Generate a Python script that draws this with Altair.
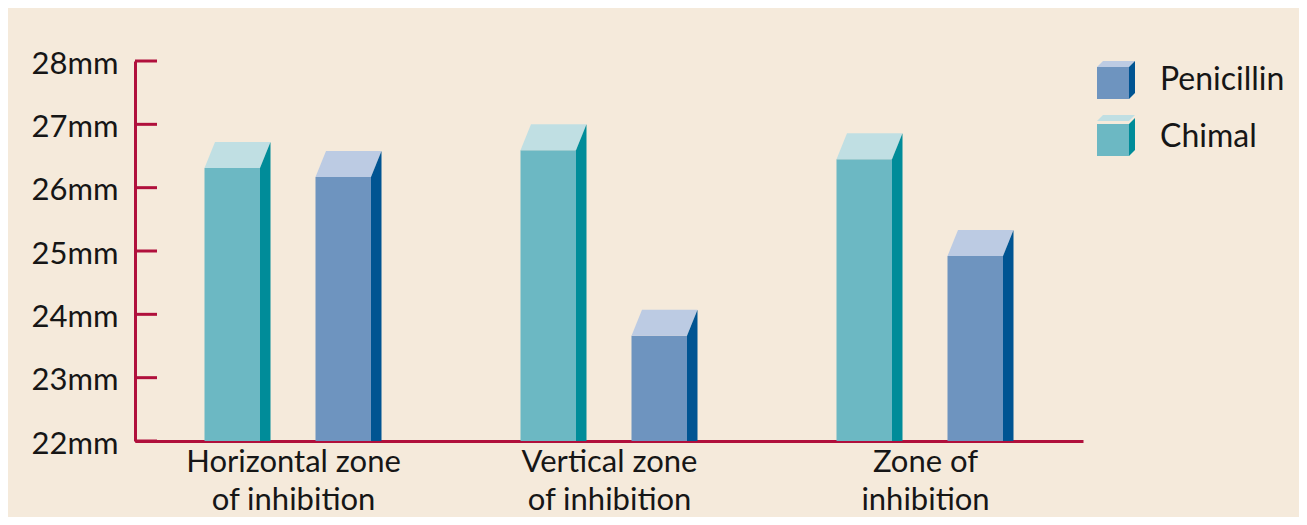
import json
import altair as alt
import pandas as pd

# ---- data ----
categories = ["Horizontal zone of inhibition", "Vertical zone of inhibition", "Zone of inhibition"]
category_lines = [["Horizontal zone", "of inhibition"], ["Vertical zone", "of inhibition"], ["Zone of", "inhibition"]]
series = ["Penicillin", "Chimal"]
chimal = [26.31, 26.59, 26.45]
penicillin = [26.17, 23.66, 24.92]
y_ticks = [22, 23, 24, 25, 26, 27, 28]

# ---- styles ----
front_colors = ["#6E94BF", "#6CB8C3"]
top_colors = ["#BCCBE3", "#C0DFE3"]
side_colors = ["#005492", "#008C99"]
AXIS = "#B0103C"
BG = "#F5EADB"
TXT = "#161616"
FONT = "Lato"

W, H = 948, 380
BAND = W / 3
Y0, Y1 = 22, 28
PX_PER_MM = H / (Y1 - Y0)
offsets = {"Chimal": 69.5, "Penicillin": 180.5}
FRONT, SIDE, DEPTH = 55.5, 10.5, 26

rows_front, rows_top, rows_side = [], [], []
for i, cat in enumerate(categories):
    for s, vals in (("Chimal", chimal), ("Penicillin", penicillin)):
        v = vals[i]
        x0 = i + offsets[s] / BAND
        x1 = x0 + FRONT / BAND
        dx = SIDE / BAND
        dy = DEPTH / PX_PER_MM
        bid = f"{s}-{i}"
        rows_front.append(dict(series=s, category=cat, x0=x0, x1=x1, y=v, base=Y0))
        rows_top.append(dict(series=s, bar=bid, y=v, xa=x0, xb=x1))
        rows_top.append(dict(series=s, bar=bid, y=v + dy, xa=x0 + dx, xb=x1 + dx))
        rows_side.append(dict(series=s, bar=bid, x=x1, y=v, base=Y0))
        rows_side.append(dict(series=s, bar=bid, x=x1 + dx, y=v + dy, base=Y0))

df_front = pd.DataFrame(rows_front)
df_top = pd.DataFrame(rows_top)
df_side = pd.DataFrame(rows_side)
df_ticks = pd.DataFrame({"tick": y_ticks})

x_scale = alt.Scale(domain=[0, 3], nice=False, zero=False)
y_scale = alt.Scale(domain=[Y0, Y1], nice=False, zero=False)

label_expr = "[" + ",".join(json.dumps(l) for l in category_lines) + "][floor(datum.value)]"

x_axis = alt.Axis(values=[0.5, 1.5, 2.5], labelExpr=label_expr, title=None, ticks=False, tickSize=0,
                  domainColor=AXIS, domainWidth=3, labelFont=FONT, labelFontSize=31, labelColor=TXT,
                  labelPadding=6, labelLineHeight=38, grid=False, labelFlush=False, labelLimit=0)
y_axis = alt.Axis(values=y_ticks, labelExpr="datum.value + 'mm'", title=None, ticks=False, tickSize=0,
                  domainColor=AXIS, domainWidth=3, labelFont=FONT, labelFontSize=31, labelColor=TXT,
                  labelPadding=17, labelOffset=3, grid=False, labelFlush=False, labelLimit=0)

P_FRONT = "M-1,-0.684L0.684,-0.684L0.684,1L-1,1Z"
P_TOP = "M-1,-0.684L0.684,-0.684L1,-1L-0.684,-1Z"
P_SIDE = "M0.684,-0.684L1,-1L1,0.684L0.684,1Z"


def leg(path, show):
    opts = dict(title=None, orient="none", legendX=962, legendY=0, symbolType=path,
                symbolSize=1444, symbolStrokeWidth=0, symbolOpacity=1, labelFont=FONT,
                labelFontSize=32, labelColor=TXT, labelOffset=25, rowPadding=19, padding=0,
                labelLimit=0)
    if not show:
        opts["labelExpr"] = "''"
    return alt.Legend(**opts)


ticks = alt.Chart(df_ticks).mark_rule(color=AXIS, strokeWidth=3).encode(
    y=alt.Y("tick:Q", scale=y_scale, axis=y_axis),
    x=alt.value(0), x2=alt.value(22),
)

front = alt.Chart(df_front).mark_rect(opacity=1).encode(
    x=alt.X("x0:Q", scale=x_scale, axis=x_axis),
    x2="x1:Q",
    y=alt.Y("y:Q", scale=y_scale, axis=y_axis),
    y2="base:Q",
    fill=alt.Fill("series:N", scale=alt.Scale(domain=series, range=front_colors), legend=leg(P_FRONT, True)),
)

top = alt.Chart(df_top).mark_area(orient="horizontal", opacity=1).encode(
    y=alt.Y("y:Q", scale=y_scale, axis=y_axis),
    x=alt.X("xa:Q", scale=x_scale, axis=x_axis, stack=None),
    x2="xb:Q",
    detail="bar:N",
    fill=alt.Fill("series:N", scale=alt.Scale(domain=series, range=top_colors), legend=leg(P_TOP, False)),
)

side = alt.Chart(df_side).mark_area(orient="vertical", opacity=1).encode(
    x=alt.X("x:Q", scale=x_scale, axis=x_axis),
    y=alt.Y("y:Q", scale=y_scale, axis=y_axis, stack=None),
    y2="base:Q",
    detail="bar:N",
    fill=alt.Fill("series:N", scale=alt.Scale(domain=series, range=side_colors), legend=leg(P_SIDE, False)),
)

chart = alt.layer(ticks, front, top, side).resolve_scale(fill="independent").properties(
    width=W, height=H, background=BG,
    padding={"left": 127, "top": 53, "right": 216, "bottom": 76},
    autosize=alt.AutoSizeParams(type="none"),
).configure_view(stroke=None)

chart.save("out.html", embed_options={"renderer": "svg", "actions": False})
